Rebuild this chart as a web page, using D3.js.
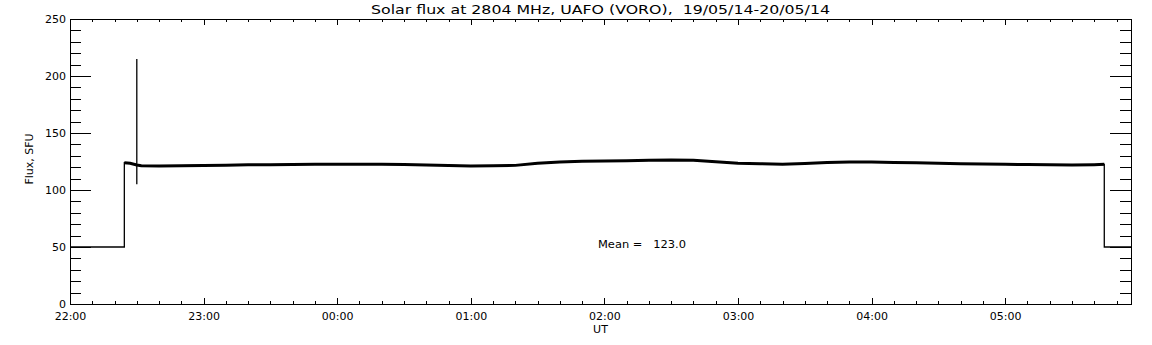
<!DOCTYPE html>
<html>
<head>
<meta charset="utf-8">
<script src="https://cdn.jsdelivr.net/npm/d3@7"></script>
<style>
  html, body { margin: 0; padding: 0; background: #fff; }
  svg { display: block; }
  text { font-family: "DejaVu Sans", sans-serif; fill: #000; }
</style>
</head>
<body>
<svg id="chart" width="1152" height="345"></svg>
<script>
// flux readings (SFU), UT times
let obsTimes = ['22:24:24', '22:27', '22:30', '22:32', '22:40', '22:50', '23:00', '23:10', '23:20', '23:30', '23:40', '23:50',
    '00:00', '00:10', '00:20', '00:30', '00:40', '00:50', '01:00', '01:10', '01:20', '01:30', '01:40', '01:50',
    '02:00', '02:10', '02:20', '02:30', '02:40', '02:50', '03:00', '03:10', '03:20', '03:30', '03:40', '03:50',
    '04:00', '04:10', '04:20', '04:30', '04:40', '04:50', '05:00', '05:10', '05:20', '05:30', '05:40', '05:44:30'];
let obsFlux = [124.0, 123.5, 122.0, 121.2, 121.0, 121.3, 121.6, 121.8, 122.1, 122.2, 122.4, 122.5,
    122.6, 122.6, 122.5, 122.3, 122.0, 121.5, 121.1, 121.2, 121.6, 123.5, 124.6, 125.2,
    125.4, 125.6, 126.0, 126.4, 126.0, 124.8, 123.5, 123.0, 122.6, 123.2, 124.1, 124.6,
    124.5, 124.2, 123.8, 123.4, 123.1, 122.8, 122.5, 122.3, 122.1, 121.9, 122.2, 122.5];
let offLevel = 50;
let rangeStart = '22:00', rangeEnd = '05:56:30';
let spikeTime = '22:30', spikeFlux = [105, 215];
let yTicks = [0, 50, 100, 150, 200, 250];
let meanFlux = 123.0;
let titleText = 'Solar flux at 2804 MHz, UAFO (VORO),  19/05/14-20/05/14';

// times after midnight belong to the next day
function toDate(s) {
    var p = s.split(':').map(Number);
    var day = p[0] < 12 ? 20 : 19;
    return new Date(Date.UTC(2014, 4, day, p[0], p[1], p[2] || 0));
}

var box = {l: 70, r: 1131, t: 19, b: 304};
var svg = d3.select('#chart');

var x = d3.scaleUtc().domain([toDate(rangeStart), toDate(rangeEnd)]).range([box.l, box.r]);
var y = d3.scaleLinear().domain([0, 250]).range([box.b, box.t]);

var g = svg.append('g').attr('shape-rendering', 'crispEdges');

// major / minor tick marks on all four sides, pointing inward
var hours = d3.utcHour.every(1), tenMin = d3.utcMinute.every(10);
function strip(sel) { sel.select('.domain').remove(); sel.selectAll('line').attr('stroke', '#000'); }

g.append('g').attr('transform', 'translate(0,' + box.b + ')')
    .call(d3.axisBottom(x).ticks(tenMin).tickSize(-3).tickFormat('')).call(strip);
g.append('g').attr('transform', 'translate(0,' + box.b + ')')
    .call(d3.axisBottom(x).ticks(hours).tickSize(-6).tickPadding(8).tickFormat(d3.utcFormat('%H:%M')))
    .call(strip)
    .selectAll('text').attr('font-size', 11).attr('fill', '#000');
g.append('g').attr('transform', 'translate(0,' + box.t + ')')
    .call(d3.axisTop(x).ticks(tenMin).tickSize(-3).tickFormat('')).call(strip);
g.append('g').attr('transform', 'translate(0,' + box.t + ')')
    .call(d3.axisTop(x).ticks(hours).tickSize(-6).tickFormat('')).call(strip);

g.append('g').attr('transform', 'translate(' + box.l + ',0)')
    .call(d3.axisLeft(y).ticks(25).tickSize(-11).tickFormat('')).call(strip);
g.append('g').attr('transform', 'translate(' + box.l + ',0)')
    .call(d3.axisLeft(y).tickValues(yTicks).tickSize(-21).tickPadding(4).tickFormat(d3.format('d')))
    .call(strip)
    .selectAll('text').attr('font-size', 11).attr('fill', '#000');
g.append('g').attr('transform', 'translate(' + box.r + ',0)')
    .call(d3.axisRight(y).ticks(25).tickSize(-11).tickFormat('')).call(strip);
g.append('g').attr('transform', 'translate(' + box.r + ',0)')
    .call(d3.axisRight(y).tickValues(yTicks).tickSize(-21).tickFormat('')).call(strip);

g.append('rect')
    .attr('x', box.l + 0.5).attr('y', box.t + 0.5)
    .attr('width', box.r - box.l).attr('height', box.b - box.t)
    .attr('fill', 'none').attr('stroke', '#000').attr('stroke-width', 1);

// series: receiver off level, observation, off again
var obs = obsTimes.map(function(t, i) { return [toDate(t), obsFlux[i]]; });
var full = [[toDate(rangeStart), offLevel], [obs[0][0], offLevel]]
    .concat(obs)
    .concat([[obs[obs.length - 1][0], offLevel], [toDate(rangeEnd), offLevel]]);

var line = d3.line().x(function(d) { return x(d[0]); }).y(function(d) { return y(d[1]); });

svg.append('path').datum(full)
    .attr('d', line).attr('fill', 'none').attr('stroke', '#000').attr('stroke-width', 1.3);
svg.append('path').datum(obs)
    .attr('d', line).attr('fill', 'none').attr('stroke', '#000').attr('stroke-width', 3);

svg.append('line')
    .attr('x1', x(toDate(spikeTime))).attr('x2', x(toDate(spikeTime)))
    .attr('y1', y(spikeFlux[0])).attr('y2', y(spikeFlux[1]))
    .attr('stroke', '#000').attr('stroke-width', 1.3);

// texts
svg.append('text').attr('x', (box.l + box.r) / 2).attr('y', 14)
    .attr('text-anchor', 'middle').attr('font-size', 13)
    .attr('textLength', 459).attr('lengthAdjust', 'spacingAndGlyphs')
    .style('white-space', 'pre').text(titleText);

svg.append('text').attr('x', (box.l + box.r) / 2).attr('y', 333)
    .attr('text-anchor', 'middle').attr('font-size', 11).text('UT');

svg.append('text').attr('transform', 'translate(30,159) rotate(-90)')
    .attr('text-anchor', 'middle').attr('dominant-baseline', 'middle')
    .attr('font-size', 11).text('Flux, SFU');

svg.append('text').attr('x', 598).attr('y', 247.5)
    .attr('font-size', 11).attr('textLength', 88).attr('lengthAdjust', 'spacingAndGlyphs')
    .style('white-space', 'pre').text('Mean =   ' + meanFlux.toFixed(1));
</script>
</body>
</html>
